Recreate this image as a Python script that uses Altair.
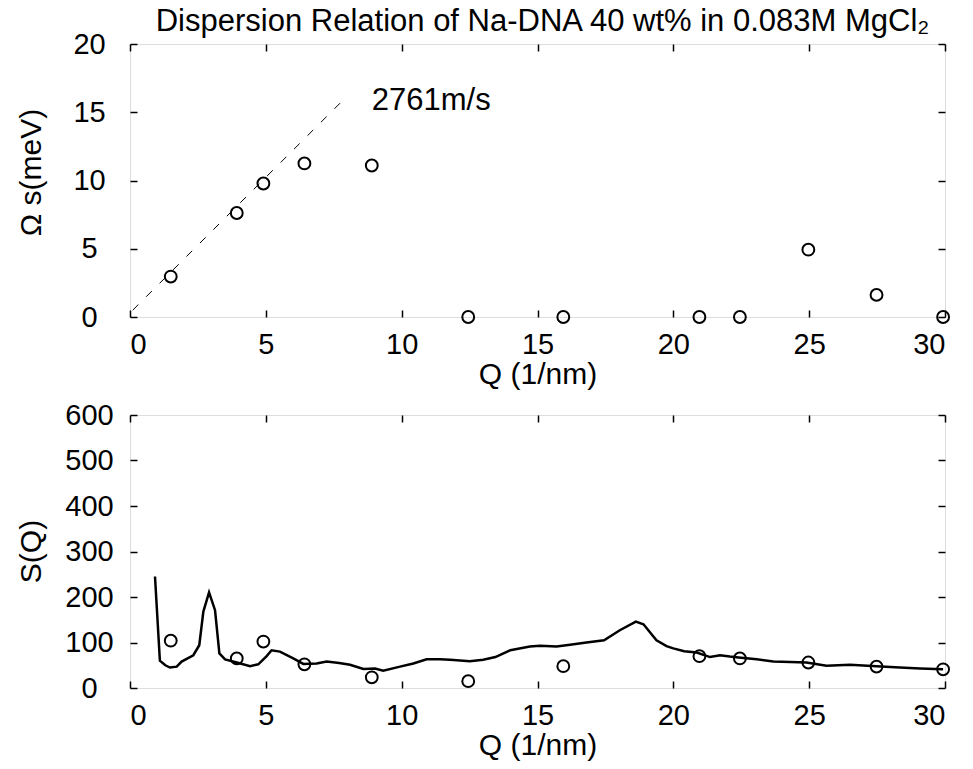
import altair as alt
import pandas as pd

# ---- data ----
q_pts = [1.5, 3.93, 4.91, 6.42, 8.9, 12.45, 15.95, 20.96, 22.45, 24.97, 27.48, 29.93]
omega_pts = [2.96, 7.62, 9.78, 11.25, 11.1, 0, 0, 0, 0, 4.93, 1.62, 0]
sq_pts = [104, 65, 102, 52, 23.5, 15, 48, 70, 65, 56, 47, 41]

q_line = [0.92, 1.10, 1.30, 1.47, 1.72, 1.90, 2.33, 2.55, 2.70, 2.91, 3.13, 3.29, 3.50,
          3.93, 4.42, 4.72, 5.03, 5.21, 5.52, 6.01, 6.38, 6.87, 7.24, 7.70, 8.10, 8.59,
          9.02, 9.32, 9.94, 10.43, 10.92, 11.41, 11.78, 12.51, 13.0, 13.45, 14.0, 14.72,
          15.09, 15.7, 16.2, 16.8, 17.45, 18.03, 18.62, 18.9, 19.38, 19.75, 20.0, 20.4,
          20.86, 21.35, 21.72, 22.08, 22.4, 23.07, 23.68, 24.3, 24.9, 25.64, 26.5, 27.48,
          28.34, 29.08, 29.93]
sq_line = [245, 60, 50, 45, 47, 58, 72, 94, 168, 210, 171, 76, 63,
           56, 48, 52, 70, 83, 80, 65, 53, 54, 58, 55, 51, 42,
           43, 38, 47, 54, 63, 63, 62, 59, 62, 68, 83, 91,
           93, 91, 95, 100, 105, 127, 146, 140, 105, 92, 87, 81,
           78, 68, 72, 69, 67, 63, 58, 57, 56, 49, 51, 48,
           45, 43, 41]

q_fit = [0.1, 7.9]
omega_fit = [0.5, 16.0]

ann_q = [8.9]
ann_w = [15.8]
ann_text = ["2761m/s"]

x_ticks = [0, 5, 10, 15, 20, 25, 30]
y1_ticks = [0, 5, 10, 15, 20]
y2_ticks = [0, 100, 200, 300, 400, 500, 600]

# ---- styling ----
FONT = "Liberation Sans"
FS = 29
FT = 31
FA = 30
W, H = 815, 273

pts_df = pd.DataFrame({"Q": q_pts, "W": omega_pts, "S": sq_pts})
line_df = pd.DataFrame({"Q": q_line, "S": sq_line})
fit_df = pd.DataFrame({"Q": q_fit, "W": omega_fit})
ann_df = pd.DataFrame({"Q": ann_q, "W": ann_w, "T": ann_text})

xs = alt.Scale(domain=[0, 30], nice=False, zero=False)
y1s = alt.Scale(domain=[0, 20], nice=False)
y2s = alt.Scale(domain=[0, 600], nice=False)


def axis(orient, values, title=None, labels=True, **kw):
    return alt.Axis(orient=orient, values=values, labels=labels, title=title,
                    tickSize=7, offset=-7, domain=False, grid=False,
                    tickColor="black", tickWidth=1.5,
                    labelFont=FONT, labelFontSize=FS, labelColor="black",
                    titleFont=FONT, titleFontSize=FA, titleColor="black",
                    titleFontWeight="normal", **kw)


def xbottom():
    return axis("bottom", x_ticks, title="Q (1/nm)", labelPadding=13, titlePadding=0)


def xtop():
    return axis("top", x_ticks, labels=False)


def yleft(values, title, ty):
    return axis("left", values, title=title, labelPadding=41, labelAlign="center",
                titleX=-106, titleY=ty, titleBaseline="middle")


def circles(df, ycol, yscale, yticks):
    return alt.Chart(df).mark_point(shape="circle", filled=False, size=140, opacity=1,
                                    strokeWidth=2, color="black", clip=False).encode(
        x=alt.X("Q:Q", scale=xs, axis=xtop()),
        y=alt.Y(f"{ycol}:Q", scale=yscale, axis=axis("right", yticks, labels=False)),
    )


# top panel
fit = alt.Chart(fit_df).mark_line(color="black", strokeWidth=1, strokeDash=[8, 11]).encode(
    x=alt.X("Q:Q", scale=xs, axis=xbottom()),
    y=alt.Y("W:Q", scale=y1s, axis=yleft(y1_ticks, "Ω s(meV)", 128)),
)
ann = alt.Chart(ann_df).mark_text(align="left", baseline="middle", font=FONT,
                                  fontSize=FT, color="black").encode(
    x=alt.X("Q:Q", scale=xs, axis=None),
    y=alt.Y("W:Q", scale=y1s, axis=None),
    text="T:N",
)
top = alt.layer(fit, circles(pts_df, "W", y1s, y1_ticks), ann).resolve_axis(
    x="independent", y="independent"
).properties(
    width=W, height=H,
    title=alt.TitleParams("Dispersion Relation of Na-DNA 40 wt% in 0.083M MgCl₂",
                          font=FONT, fontSize=FT, fontWeight="normal", color="black",
                          offset=-8, anchor="middle", dx=5),
)

# bottom panel
sline = alt.Chart(line_df).mark_line(color="black", strokeWidth=2.5).encode(
    x=alt.X("Q:Q", scale=xs, axis=xbottom()),
    y=alt.Y("S:Q", scale=y2s, axis=yleft(y2_ticks, "S(Q)", 136)),
)
bottom = alt.layer(sline, circles(pts_df, "S", y2s, y2_ticks)).resolve_axis(
    x="independent", y="independent"
).properties(width=W, height=H)

chart = alt.vconcat(top, bottom, spacing=10).properties(
    padding={"left": 15, "top": 5, "right": 5, "bottom": 5}
).configure_view(stroke="black", strokeWidth=2).configure(background="white")

chart.save("out.html", embed_options={"renderer": "svg", "actions": False})
